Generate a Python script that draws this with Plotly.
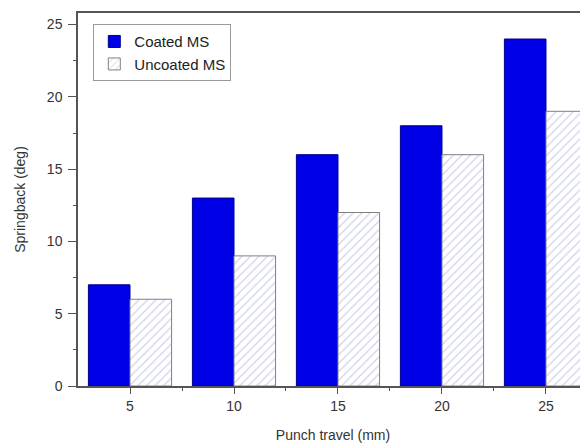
import plotly.graph_objects as go

punch_travel = [5, 10, 15, 20, 25]
coated = [7, 13, 16, 18, 24]
uncoated = [6, 9, 12, 16, 19]

fig = go.Figure()

fig.add_trace(go.Bar(
    x=punch_travel, y=coated, name='Coated MS',
    marker=dict(color='#0000e6', line=dict(color='#00008c', width=1)),
    offset=-2.0, width=2.0
))

fig.add_trace(go.Bar(
    x=punch_travel, y=uncoated, name='Uncoated MS',
    marker=dict(
        color='white',
        line=dict(color='#808080', width=1),
        pattern=dict(shape='/', fgcolor='#a0a4d8', bgcolor='white', size=6, solidity=0.2)
    ),
    offset=0.0, width=2.0
))

axis_font = dict(family='Arial, Liberation Sans, sans-serif', size=14, color='#333333')

# page body has an 8px margin, so the figure is shrunk and shifted to compensate
fig.update_layout(
    width=580, height=439,
    paper_bgcolor='white', plot_bgcolor='white',
    margin=dict(l=70, r=0, t=5, b=61),
    showlegend=True,
    legend=dict(
        x=0.03, y=0.97, xanchor='left', yanchor='top',
        bgcolor='white', bordercolor='#999999', borderwidth=1,
        font=dict(family='Arial, Liberation Sans, sans-serif', size=15, color='#222222'),
        tracegroupgap=0
    ),
    xaxis=dict(
        range=[2.5, 27.02],
        tickvals=punch_travel,
        ticks='outside', ticklen=6, tickcolor='#555555',
        minor=dict(tickvals=[7.5, 12.5, 17.5, 22.5], ticks='outside', ticklen=3, tickcolor='#555555'),
        showline=True, linecolor='#555555', linewidth=1.5, mirror=True,
        showgrid=False, zeroline=False,
        tickfont=axis_font,
        title=dict(text='Punch travel (mm)', font=axis_font, standoff=18)
    ),
    yaxis=dict(
        range=[0, 25.8],
        tickvals=[0, 5, 10, 15, 20, 25],
        ticks='outside', ticklen=8, tickcolor='#555555',
        ticklabelstandoff=3,
        minor=dict(tickvals=[2.5, 7.5, 12.5, 17.5, 22.5], ticks='outside', ticklen=3, tickcolor='#555555'),
        showline=True, linecolor='#555555', linewidth=1.5,
        showgrid=False, zeroline=False,
        tickfont=axis_font,
        title=dict(text='Springback (deg)', font=axis_font, standoff=18)
    )
)

fig.write_html("out.html")
